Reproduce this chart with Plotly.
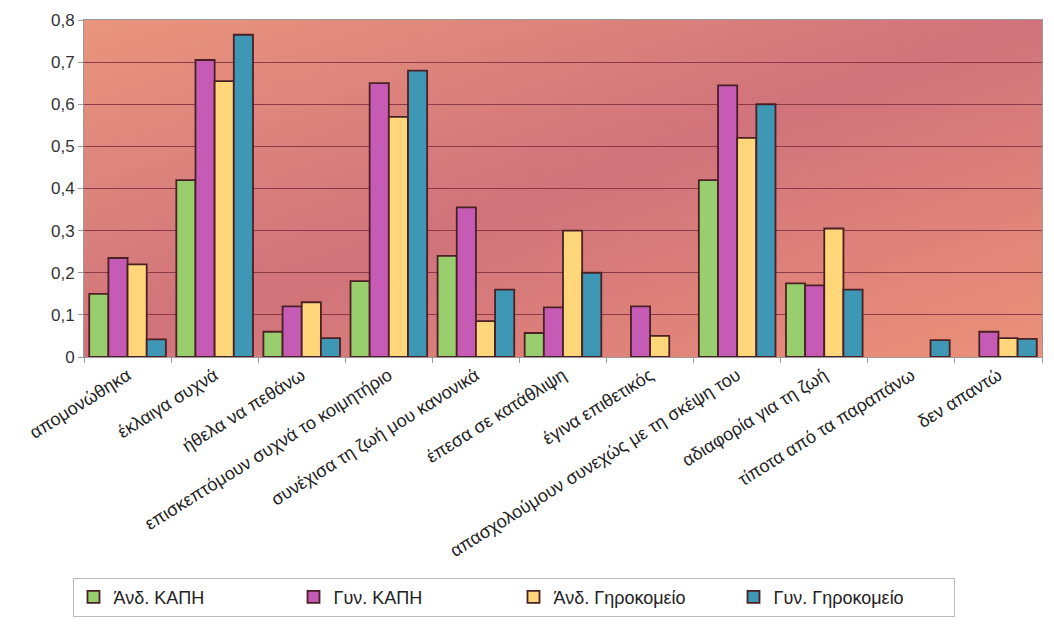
import base64
import plotly.graph_objects as go

# Responses per category (share of respondents)
categories = [
    "απομονώθηκα",
    "έκλαιγα συχνά",
    "ήθελα να πεθάνω",
    "επισκεπτόμουν συχνά το κοιμητήριο",
    "συνέχισα τη ζωή μου κανονικά",
    "έπεσα σε κατάθλιψη",
    "έγινα επιθετικός",
    "απασχολούμουν συνεχώς με τη σκέψη του",
    "αδιαφορία για τη ζωή",
    "τίποτα από τα παραπάνω",
    "δεν απαντώ",
]

andr_kaph = [0.15, 0.42, 0.06, 0.18, 0.24, 0.057, None, 0.42, 0.175, None, None]
gyn_kaph = [0.235, 0.705, 0.12, 0.65, 0.355, 0.118, 0.12, 0.645, 0.17, None, 0.06]
andr_ghrok = [0.22, 0.655, 0.13, 0.57, 0.085, 0.30, 0.05, 0.52, 0.305, None, 0.045]
gyn_ghrok = [0.042, 0.765, 0.045, 0.68, 0.16, 0.20, None, 0.60, 0.16, 0.04, 0.043]

series = [
    ("Άνδ. ΚΑΠΗ", andr_kaph, "#98CE6E"),
    ("Γυν. ΚΑΠΗ", gyn_kaph, "#C65BB5"),
    ("Άνδ. Γηροκομείο", andr_ghrok, "#FFD67A"),
    ("Γυν. Γηροκομείο", gyn_ghrok, "#3E97B4"),
]

FONT = "Liberation Sans, Arial, sans-serif"

fig = go.Figure()
for name, vals, color in series:
    fig.add_trace(go.Bar(
        name=name,
        x=categories,
        y=vals,
        marker=dict(color=color, line=dict(color="#4A2025", width=1.8)),
    ))

# Diagonal salmon -> rose -> salmon gradient for the plot area
svg = (
    "<svg xmlns='http://www.w3.org/2000/svg' width='960' height='342' "
    "viewBox='0 0 960 342' preserveAspectRatio='none'>"
    "<defs><linearGradient id='g' x1='0' y1='0' x2='1' y2='1'>"
    "<stop offset='0' stop-color='#EA957D'/>"
    "<stop offset='0.5' stop-color='#D0737B'/>"
    "<stop offset='1' stop-color='#EC9179'/>"
    "</linearGradient></defs>"
    "<rect x='0' y='0' width='960' height='342' fill='url(#g)'/></svg>"
)
src = "data:image/svg+xml;base64," + base64.b64encode(svg.encode("utf-8")).decode("ascii")

fig.update_layout(
    width=1054,
    height=637,
    margin=dict(l=84, r=11, t=15, b=280),
    paper_bgcolor="white",
    plot_bgcolor="#D87C7C",
    separators=", ",
    barmode="group",
    bargap=0.12,
    bargroupgap=0,
    font=dict(family=FONT, color="#222222"),
    images=[dict(
        source=src, xref="paper", yref="paper", x=0, y=1,
        sizex=1, sizey=1, xanchor="left", yanchor="top",
        sizing="stretch", layer="below",
    )],
    legend=dict(
        orientation="h",
        x=-0.012, y=-0.655, xanchor="left", yanchor="top",
        bgcolor="white", bordercolor="#BBBBBB", borderwidth=1,
        font=dict(family=FONT, size=18, color="#222222"),
        entrywidth=175,
        traceorder="normal",
    ),
    showlegend=True,
)

fig.update_yaxes(
    range=[0, 0.8],
    dtick=0.1,
    showgrid=True,
    gridcolor="#8A3A48",
    gridwidth=1,
    zeroline=False,
    showline=True,
    linecolor="#9A9A9A",
    mirror=True,
    ticks="outside",
    ticklen=5,
    tickcolor="#9A9A9A",
    tickfont=dict(family=FONT, size=17, color="#333333"),
)

fig.update_xaxes(
    showline=True,
    linecolor="#9A9A9A",
    mirror=True,
    ticks="outside",
    tickson="boundaries",
    ticklen=5,
    tickcolor="#9A9A9A",
    tickangle=-32,
    tickfont=dict(family=FONT, size=18, color="#222222"),
)

fig.write_html("out.html")
